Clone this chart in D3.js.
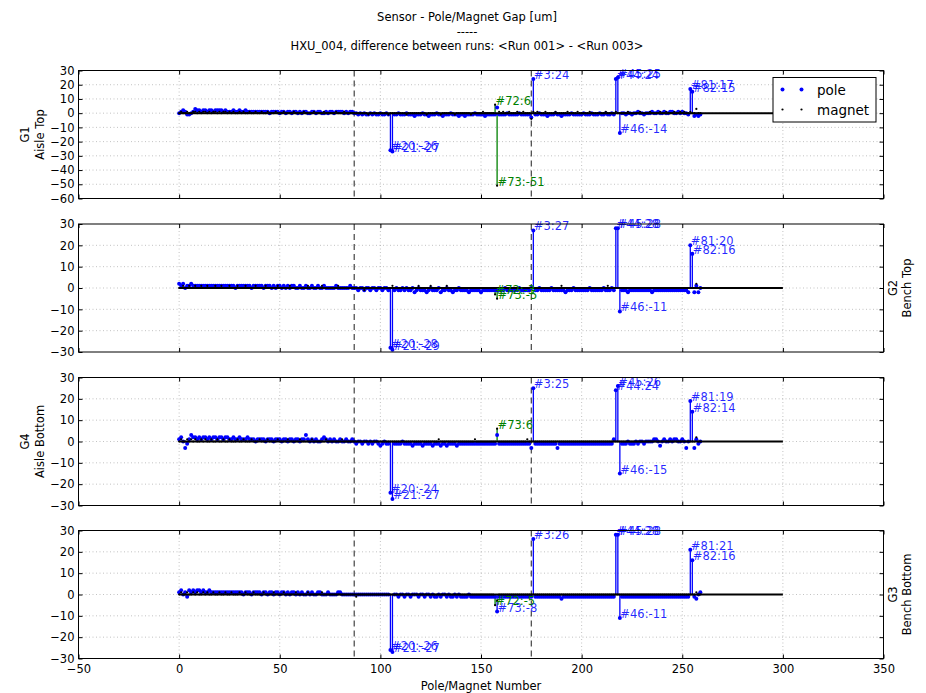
<!DOCTYPE html>
<html><head><meta charset="utf-8">
<script src="https://cdn.jsdelivr.net/npm/d3@7"></script>
<style>body{margin:0;background:#fff;} svg{display:block;font-family:"DejaVu Sans",sans-serif;}</style>
</head><body><svg id="c" width="926" height="693"></svg>
<script>
// ---------- data ----------
const titleLines = ["Sensor - Pole/Magnet Gap [um]", "-----", "HXU_004, difference between runs: <Run 001> - <Run 003>"];
const xLabel = "Pole/Magnet Number";
const xTicks = [-50, 0, 50, 100, 150, 200, 250, 300, 350];
const panelNames = ["G1", "G2", "G4", "G3"];
const panelSubNames = ["Aisle Top", "Bench Top", "Aisle Bottom", "Bench Bottom"];
const panelLabelSide = ["left", "right", "left", "right"];
const yDomains = [[-60, 30], [-30, 30], [-30, 30], [-30, 30]];
const sectionLines = [87, 175];
const zeroLineRange = [0, 300];
const firstIndex = 0;  // x of first pole / magnet

// pole stems (x position, pole number) common to all panels
const poleSpikeX = [105, 106, 176, 217, 218, 219, 254, 255];
const poleSpikeIds = [20, 21, 3, 44, 45, 46, 81, 82];
// extra stems per panel
const extraPoleSpikeX = [[], [], [], [158]];
const extraPoleSpikeIds = [[], [], [], [73]];
const magnetSpikeX = [[157, 158], [157, 158], [158], [157]];
const magnetSpikeIds = [[72, 73], [72, 73], [73], [72]];

const g1Pole = [
0,1,2,1,-1,-1,0,1,3,2,2,1,2,2,1,2,2,1,2,2,
2,2,1,2,1,1,1,2,1,1,2,1,1,2,1,1,1,1,1,1,
1,1,1,1,1,0,1,1,1,1,0,1,1,0,1,1,0,1,1,0,
1,0,1,1,0,0,1,1,0,1,1,0,0,1,0,1,1,0,1,1,
1,1,0,1,0,1,1,0,0,-1,0,-1,0,-1,-1,0,-1,0,-1,-1,
0,-1,-1,0,-1,-26,-27,-1,-1,0,-1,-1,-1,0,-1,-1,-1,-2,-1,-1,
-1,0,-1,-1,-2,-1,-1,-1,0,-1,-1,-2,-1,-1,-1,0,-1,-1,-1,-2,
-1,-1,-2,-1,-1,-1,-1,0,-1,-1,-1,-1,-2,-1,-1,-1,-1,-1,4,-1,
-1,-1,-1,0,-1,-1,-1,-1,-1,0,-1,-1,-1,-1,-1,-3,24,-1,-1,0,
-1,-1,-1,-2,-1,-1,-1,0,-1,-1,-2,-1,-1,-1,-1,0,-1,-1,-1,-1,
-1,0,-1,-1,-1,0,-1,-1,-1,0,-1,-1,0,-1,-1,0,-1,24,25,-14,
0,0,-1,0,0,-1,0,0,1,0,0,-1,0,0,0,1,0,0,1,0,
0,1,0,0,1,1,0,0,1,0,1,0,0,-1,17,15,-2,-1,-2,-1];
const g1Magnet = [
0,1,0,0,1,0,0,1,1,0,1,0,1,1,0,1,0,1,1,0,
1,0,1,1,0,1,0,1,0,0,1,0,1,0,0,1,0,0,1,0,
0,1,0,0,1,0,0,0,1,0,0,0,1,0,0,0,0,1,0,0,
0,0,1,0,0,0,0,1,0,0,0,0,1,0,0,0,0,0,1,0,
0,0,1,0,0,0,0,0,0,0,0,0,0,0,-1,0,0,0,0,0,
0,0,0,0,-1,0,0,0,0,0,0,0,0,-1,0,0,0,0,0,0,
0,0,0,-1,0,0,0,0,0,0,-1,0,0,0,0,0,0,-1,0,0,
0,0,0,0,0,-1,0,0,0,0,0,1,0,0,0,0,0,6,-51,1,
0,1,0,0,1,0,0,0,1,0,0,1,0,0,0,-4,1,0,1,0,
0,0,1,0,0,0,0,1,0,0,0,0,0,1,0,0,0,0,1,0,
0,0,0,0,1,0,0,0,0,0,0,0,1,0,0,0,0,1,0,0,
0,0,0,1,0,0,0,0,0,1,0,0,0,0,1,0,0,0,0,1,
0,0,1,0,0,0,1,0,0,1,0,1,0,0,1,0,0,3,0,0];

const g2Pole = [
2,1,2,0,1,1,2,1,1,1,1,1,1,1,1,1,1,1,1,1,
1,1,1,1,1,1,1,1,0,1,1,1,1,1,1,1,0,1,1,1,
1,1,0,1,1,1,0,1,0,1,1,0,1,0,1,0,1,1,0,0,
1,0,0,1,0,0,1,0,0,1,0,0,1,0,0,0,0,0,1,0,
0,0,0,0,0,1,0,0,0,-1,0,0,-1,0,0,-1,0,0,-1,0,
0,-1,0,0,-1,-28,-29,-1,0,-1,-1,0,-1,0,-1,-1,0,-2,-1,0,
-1,-1,-1,-2,-1,0,-1,-1,-1,0,-2,-1,-1,0,-1,-1,-2,-1,-1,0,
-1,-1,-1,-1,-2,-1,-1,-1,-1,-1,-2,-1,-1,-1,-1,-1,-1,-1,-1,-1,
-1,-1,0,-1,-1,-1,-1,-1,-1,0,-1,-1,-1,-1,-1,0,27,-1,-1,0,
-1,-1,-1,-1,-1,0,-1,-1,-1,-1,-1,-1,-2,-1,-1,-1,0,-1,-1,-1,
-1,-1,-1,-1,0,-1,-1,-1,-1,-1,-1,0,-1,-1,-1,0,-1,28,28,-11,
-1,-1,-1,-2,-1,-1,-1,-1,-1,-1,-1,-1,-1,-1,-1,-2,-1,-1,-1,-1,
-1,-1,-1,-1,-1,-1,-1,-1,-1,-1,-1,-1,-1,-2,20,16,-2,1,-2,0];
const g2Magnet = [
0,0,1,0,0,1,0,0,1,0,0,1,0,0,1,0,0,0,1,0,
0,1,0,0,0,1,0,0,0,1,0,0,0,1,0,0,0,0,1,0,
0,0,0,1,0,0,0,0,0,1,0,0,0,0,0,1,0,0,0,0,
0,0,0,0,1,0,0,0,0,0,0,1,0,0,0,0,0,0,0,1,
0,0,0,0,0,0,0,0,0,0,0,0,-1,0,0,0,0,0,0,0,
0,0,0,0,0,0,1,0,0,0,0,0,0,0,0,0,0,0,0,1,
0,0,0,0,0,1,0,0,0,0,0,0,0,1,0,0,0,0,0,0,
0,0,0,0,0,0,0,0,0,0,0,0,0,0,0,0,0,-3,-5,0,
0,0,0,0,0,0,0,0,0,0,0,0,0,0,0,0,0,0,0,0,
0,0,0,0,0,0,0,0,0,0,1,0,0,0,0,0,0,0,0,0,
0,0,0,0,0,0,0,0,0,0,0,0,0,1,0,0,0,0,0,0,
0,0,0,0,0,0,0,0,0,0,0,0,0,0,0,0,0,0,0,0,
0,0,0,0,0,0,0,0,0,0,0,0,0,0,0,0,0,2,0,0];

const g4Pole = [
1,2,0,-3,-1,1,3,2,2,1,2,1,2,2,1,2,1,2,2,1,
2,2,1,2,2,1,1,2,1,1,2,1,1,1,2,1,1,1,0,1,
1,1,1,0,1,1,1,0,1,1,1,0,1,1,0,1,1,0,1,1,
0,1,1,3,1,0,1,0,1,0,0,1,2,1,0,1,0,1,0,0,
1,0,0,1,0,0,1,0,-1,0,0,-1,0,0,-1,0,-1,0,0,-1,
-2,-1,0,-1,-1,-24,-27,-1,-1,-1,-1,0,-1,-1,-1,-1,-2,-1,-1,-1,
-1,-2,-1,-1,-1,-1,-2,-1,-1,-1,-2,-1,-1,-2,-1,-1,-1,-1,-2,-1,
-1,-1,-1,-1,-1,-1,-1,-1,-1,-1,-1,-1,-1,-1,-1,-1,-1,-1,3,-1,
-1,-1,-1,-1,-1,-1,-1,-1,-1,-1,-1,-1,-1,-1,-1,-3,25,-1,-1,-1,
-1,-1,-1,-1,-1,-1,-1,-1,-3,-1,-1,-1,-1,-1,-1,-1,-1,-1,-1,-1,
-1,-1,-1,-1,-1,-1,-1,-1,-1,-1,-1,-1,-1,-1,-1,-1,1,24,26,-15,
-1,-1,-1,0,-1,-1,-1,0,-1,0,0,-1,0,0,0,0,1,1,0,-2,
0,1,0,0,1,0,1,1,0,0,1,0,-3,0,19,14,-3,1,-1,0];
const g4Magnet = [
0,1,0,0,1,0,1,0,1,0,0,1,0,1,0,0,1,0,0,1,
0,0,1,0,0,1,0,0,0,1,0,0,1,0,0,0,1,0,0,0,
1,0,0,0,1,0,0,0,0,1,0,0,0,0,1,0,0,0,0,0,
1,0,0,0,0,0,1,0,0,0,0,0,0,1,0,0,0,0,0,0,
0,1,0,0,0,0,0,0,0,0,0,0,0,0,0,0,0,0,0,0,
0,0,0,0,0,0,0,0,0,0,0,0,0,0,0,0,0,0,0,0,
0,0,0,0,0,0,0,0,0,1,0,0,0,0,0,0,0,0,0,0,
0,0,0,0,0,0,0,1,0,0,0,0,0,0,0,0,0,0,6,0,
0,0,0,0,0,0,0,0,0,0,0,0,0,1,0,0,0,0,0,0,
0,0,0,0,0,0,0,0,0,0,0,0,0,0,0,0,0,0,0,0,
0,0,0,0,0,0,0,0,0,0,0,0,0,0,0,0,0,0,0,0,
0,0,0,0,0,0,0,0,0,0,0,0,0,0,0,0,0,0,0,0,
0,0,0,0,0,0,0,0,0,0,0,0,0,0,0,0,0,2,0,0];

const g3Pole = [
1,2,0,1,-1,2,1,2,1,2,2,1,2,1,1,2,1,1,1,1,
1,1,1,1,1,1,1,1,1,1,1,1,0,1,1,1,0,1,1,1,
1,0,1,1,0,1,1,0,1,1,0,1,1,0,1,0,1,1,0,1,
0,1,0,0,1,0,1,0,0,1,1,0,0,0,1,0,0,0,0,1,
1,0,0,0,0,0,0,0,0,0,0,0,0,0,0,0,0,0,0,0,
0,0,0,0,0,-26,-27,0,0,-1,0,0,-1,0,0,-1,0,0,0,-1,
0,0,-1,0,0,-1,0,-1,-1,0,-1,0,0,-1,0,-1,-1,0,-1,0,
-1,-1,-1,-1,0,-1,-1,-1,-1,-1,-1,-1,-1,-1,-1,-1,-1,-1,-8,-1,
-1,-1,-1,-1,-1,-1,-1,-1,-1,-1,-1,-1,-1,-1,-1,-1,26,-1,-1,-1,
-1,-1,-1,-1,-1,-1,-1,-1,-1,-1,-2,-1,-1,-1,-1,-1,-1,-1,-1,-1,
-1,-1,-1,-1,-1,-1,-1,-1,-1,-1,-1,-1,-1,-1,-1,-1,-1,28,28,-11,
-1,-1,-1,-1,-1,-1,-1,-1,-1,-1,-1,-1,-1,-1,-1,-1,-1,-1,-1,-1,
-1,-1,-1,-1,-1,-1,-1,-1,-1,-1,-1,-1,-1,-1,21,16,-1,-2,0,1];
const g3Magnet = [
0,1,0,0,1,0,0,1,0,1,0,0,1,0,1,0,0,1,0,0,
1,0,0,1,0,0,1,0,0,0,1,0,0,1,0,0,0,1,0,0,
0,0,1,0,0,0,0,1,0,0,0,0,1,0,0,0,0,0,1,0,
0,0,0,0,1,0,0,0,0,0,0,1,0,0,0,0,0,0,0,0,
0,0,0,0,0,0,0,0,-1,0,0,0,0,0,0,0,0,0,0,0,
0,0,0,0,0,0,0,0,0,0,0,0,0,0,0,0,0,0,0,0,
0,0,0,0,0,0,0,0,0,0,0,0,0,0,0,0,0,0,0,0,
0,0,0,0,0,0,0,0,0,0,0,0,0,0,0,0,0,-5,-3,0,
0,0,0,0,0,0,0,0,0,0,0,0,0,0,0,0,0,0,0,0,
0,0,0,0,0,0,0,0,0,0,0,0,0,0,0,0,0,0,0,0,
0,0,0,0,0,0,0,0,0,0,0,0,0,0,0,0,0,0,0,0,
0,0,0,0,0,0,0,0,0,0,0,0,0,0,0,0,0,0,0,0,
0,0,0,0,0,0,0,0,0,0,0,0,0,0,0,0,0,1,0,0];

const poleSeries = [g1Pole, g2Pole, g4Pole, g3Pole];
const magnetSeries = [g1Magnet, g2Magnet, g4Magnet, g3Magnet];
const legendLabels = ["pole", "magnet"];

// ---------- layout ----------
const W = 926, H = 693;
const left = 78.5, right = 883.5;
const panelTops = [70.5, 224, 377.5, 530.5];
const panelH = 128;
const fs = 11.5;
const poleColor = "#0000ff", magnetColor = "#000000", magnetStemColor = "#008000";

const svg = d3.select("#c");
svg.append("rect").attr("width", W).attr("height", H).attr("fill", "#fff");

const x = d3.scaleLinear().domain([xTicks[0], xTicks[xTicks.length - 1]]).range([left, right]);

// title
titleLines.forEach((t, i) => {
  svg.append("text").attr("x", 467).attr("y", [21, 36, 50][i])
    .attr("text-anchor", "middle").attr("font-size", fs).attr("fill", "#000").text(t);
});
svg.append("text").attr("x", (left + right) / 2).attr("y", 690)
  .attr("text-anchor", "middle").attr("font-size", fs).text(xLabel);

panelNames.forEach((name, p) => {
  const top = panelTops[p], bottom = top + panelH;
  const dom = yDomains[p];
  const y = d3.scaleLinear().domain(dom).range([bottom, top]);
  const yTicks = d3.range(dom[0], dom[1] + 1, 10);
  const g = svg.append("g");

  // grid
  const grid = g.append("g").attr("stroke", "#9a9a9a").attr("stroke-width", 0.6).attr("stroke-dasharray", "1,2.5");
  xTicks.slice(1, -1).forEach(t => grid.append("line").attr("x1", x(t)).attr("x2", x(t)).attr("y1", top).attr("y2", bottom));
  yTicks.slice(1, -1).forEach(t => grid.append("line").attr("x1", left).attr("x2", right).attr("y1", y(t)).attr("y2", y(t)));

  // section lines
  sectionLines.forEach(s => g.append("line").attr("x1", x(s)).attr("x2", x(s)).attr("y1", top).attr("y2", bottom)
    .attr("stroke", "#444").attr("stroke-width", 1.2).attr("stroke-dasharray", "6,4"));

  const poles = poleSeries[p].map((v, i) => ({ x: firstIndex + i, v }));
  const mags = magnetSeries[p].map((v, i) => ({ x: firstIndex + i, v }));

  // stems
  const pSX = poleSpikeX.concat(extraPoleSpikeX[p]);
  const pSI = poleSpikeIds.concat(extraPoleSpikeIds[p]);
  const stems = [];
  pSX.forEach((sx, k) => stems.push({ x: sx, v: poleSeries[p][sx - firstIndex], id: pSI[k], color: poleColor, kind: "pole" }));
  magnetSpikeX[p].forEach((sx, k) => stems.push({ x: sx, v: magnetSeries[p][sx - firstIndex], id: magnetSpikeIds[p][k], color: magnetStemColor, kind: "magnet" }));

  g.selectAll(".stem").data(stems).enter().append("line")
    .attr("x1", d => x(d.x)).attr("x2", d => x(d.x)).attr("y1", y(0)).attr("y2", d => y(d.v))
    .attr("stroke", d => d.color).attr("stroke-width", 1.3);

  // pole dots
  g.selectAll(".pole").data(poles).enter().append("circle")
    .attr("cx", d => x(d.x)).attr("cy", d => y(d.v)).attr("r", 2).attr("fill", poleColor);

  // zero line
  g.append("line").attr("x1", x(zeroLineRange[0])).attr("x2", x(zeroLineRange[1]))
    .attr("y1", y(0)).attr("y2", y(0)).attr("stroke", "#000").attr("stroke-width", 2);

  // magnet dots
  g.selectAll(".mag").data(mags).enter().append("circle")
    .attr("cx", d => x(d.x)).attr("cy", d => y(d.v)).attr("r", 1.1).attr("fill", magnetColor);

  // stem labels
  g.selectAll(".lab").data(stems).enter().append("text")
    .attr("x", d => x(d.x) + 0.5).attr("y", d => y(d.v)).attr("font-size", fs)
    .attr("fill", d => d.color).attr("fill-opacity", d => d.kind === "pole" ? 0.85 : 1)
    .text(d => "#" + d.id + ":" + d.v);

  // frame
  g.append("rect").attr("x", left).attr("y", top).attr("width", right - left).attr("height", panelH)
    .attr("fill", "none").attr("stroke", "#000").attr("stroke-width", 1);

  // axes (inward ticks)
  const ax = g.append("g").attr("font-family", "DejaVu Sans");
  const yl = ax.append("g").attr("transform", `translate(${left},0)`)
    .call(d3.axisLeft(y).tickValues(yTicks).tickSize(-4).tickPadding(4));
  const yr = ax.append("g").attr("transform", `translate(${right},0)`)
    .call(d3.axisRight(y).tickValues(yTicks).tickSize(-4).tickFormat(""));
  const xt = ax.append("g").attr("transform", `translate(0,${top})`)
    .call(d3.axisTop(x).tickValues(xTicks).tickSize(-4).tickFormat(""));
  const xb = ax.append("g").attr("transform", `translate(0,${bottom})`)
    .call(d3.axisBottom(x).tickValues(xTicks).tickSize(-4).tickPadding(6)
      .tickFormat(p === panelNames.length - 1 ? d3.format("") : ""));
  [yl, yr, xt, xb].forEach(a => {
    a.select(".domain").remove();
    a.selectAll("text").attr("font-size", fs).attr("fill", "#000").attr("font-family", "DejaVu Sans");
    a.selectAll("line").attr("stroke", "#000");
  });

  // panel labels
  const cy = (top + bottom) / 2;
  const lx = panelLabelSide[p] === "left" ? [25, 40] : [893, 907];
  [name, panelSubNames[p]].forEach((t, i) => {
    svg.append("text").attr("transform", `translate(${lx[i]},${cy}) rotate(-90)`)
      .attr("text-anchor", "middle").attr("dominant-baseline", "central")
      .attr("font-size", fs).text(t);
  });
});

// legend
const lg = svg.append("g");
lg.append("rect").attr("x", 773).attr("y", 77.5).attr("width", 103).attr("height", 44.5)
  .attr("fill", "#fff").attr("stroke", "#000").attr("stroke-width", 1);
legendLabels.forEach((t, i) => {
  const yy = 89.5 + i * 20;
  [782.5, 801.5].forEach(mx => lg.append("circle").attr("cx", mx).attr("cy", yy)
    .attr("r", i === 0 ? 2 : 1.1).attr("fill", i === 0 ? poleColor : magnetColor));
  lg.append("text").attr("x", 817).attr("y", yy).attr("dominant-baseline", "central")
    .attr("font-size", 13.5).text(t);
});
</script>
</body></html>
